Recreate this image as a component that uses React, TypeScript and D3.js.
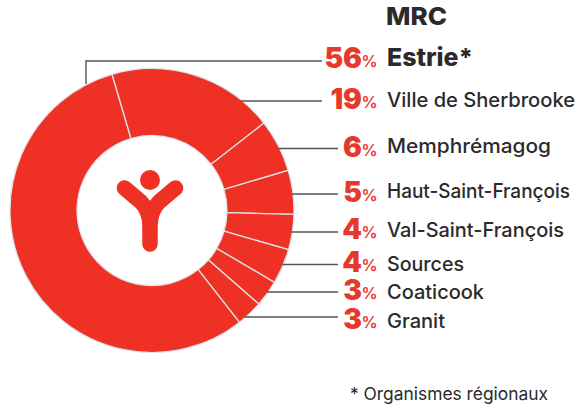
import React from "react";
import * as d3 from "d3";

const regions = ["Ville de Sherbrooke", "Memphrémagog", "Haut-Saint-François", "Val-Saint-François", "Sources", "Coaticook", "Granit", "Estrie"];
const shares = [19, 6, 5, 4, 4, 3, 3, 56];
const rowOrder = [7, 0, 1, 2, 3, 4, 5, 6];

const W = 580, H = 407, cx = 152, cy = 210.5, R = 142, r = 75;
const FONT = "Inter, 'Noto Sans', sans-serif";
const RED = "#ef3024", PCT = "#e6382b", INK = "#2b2a2b", LINE = "#555";
const leaderY = [61, 101, 148.5, 194, 232, 264.5, 292, 317];
const leaderEnd = [322, 322, 338, 338, 338, 338, 338, 338];
const numBase = [68, 109, 157, 202, 239, 272, 300, 329];
const nameBase = [66, 107, 153, 198, 237, 271, 299, 328];
const nameWidth = [86, 188, 164, 183, 177, 77, 97, 58];

export default function App() {
  const start = (-16.4 * Math.PI) / 180;
  const pie = d3.pie<number>().sort(null).startAngle(start).endAngle(start + 2 * Math.PI);
  const arc = d3.arc<d3.PieArcDatum<number>>().innerRadius(r).outerRadius(R);
  const arcs = pie(shares);
  return (
    <svg width={W} height={H} viewBox={`0 0 ${W} ${H}`} style={{ position: "absolute", left: 0, top: 0, fontFamily: FONT }}>
      <g transform={`translate(${cx},${cy})`}>
        {arcs.map((a, i) => (
          <path key={i} d={arc(a) || ""} fill={RED} stroke="#dfe3e6" strokeWidth={1.3} />
        ))}
      </g>
      {rowOrder.map((idx, row) => {
        const y = leaderY[row];
        const dy = y - cy;
        const x0 = row === 0 ? 86 : cx + Math.sqrt(Math.max(0, (R - 1) ** 2 - dy * dy));
        const d = row === 0 ? `M86,84V${y}H${leaderEnd[row]}` : `M${x0},${y}H${leaderEnd[row]}`;
        const bold = row === 0;
        return (
          <g key={regions[idx]}>
            <path d={d} fill="none" stroke={LINE} strokeWidth={1.4} />
            <text x={362} y={numBase[row]} textAnchor="end" fontSize={28} fontWeight={900} fill={PCT}>{shares[idx]}</text>
            <text x={377.500} y={numBase[row] - 1} textAnchor="end" fontSize={16} fontWeight={600} fill={PCT}>%</text>
            <text x={387} y={nameBase[row]} fontSize={bold ? 24.5 : 20} fontWeight={bold ? 800 : 500} fill={INK} textLength={nameWidth[row]} lengthAdjust="spacingAndGlyphs">{regions[idx]}{bold ? "*" : ""}</text>
          </g>
        );
      })}
      <text x={386} y={25} fontSize={25} fontWeight={800} fill={INK} textLength={61} lengthAdjust="spacingAndGlyphs">MRC</text>
      <text x={350} y={400} fontSize={17.4} fill={INK} textLength={198} lengthAdjust="spacingAndGlyphs">* Organismes régionaux</text>
      <circle cx={150} cy={180} r={10} fill={RED} />
      <path d="M124.5,188 L141,202 Q150,211 150,226 V244 M175.500,188 L159,202 Q150,211 150,226" fill="none" stroke={RED} strokeWidth={15.500} strokeLinecap="round" strokeLinejoin="round" />
    </svg>
  );
}
